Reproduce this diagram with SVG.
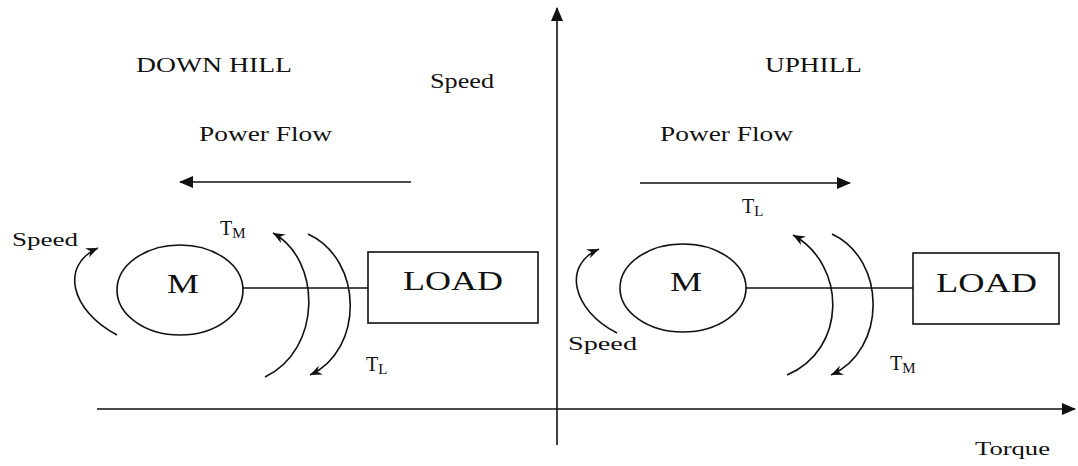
<svg xmlns="http://www.w3.org/2000/svg" width="1078" height="466" viewBox="0 0 1078 466">
<defs>
<style>
.t{font-family:"Liberation Serif","Times New Roman",serif;fill:#111;}
.ln{stroke:#111;stroke-width:1.6;fill:none;}
.arc{stroke:#111;stroke-width:1.6;fill:none;marker-end:url(#v);}
</style>
<marker id="tri" markerUnits="userSpaceOnUse" markerWidth="14" markerHeight="12" refX="13" refY="6" orient="auto"><path d="M0,0 L14,6 L0,12 Z" fill="#111"/></marker>
<marker id="v" markerUnits="userSpaceOnUse" markerWidth="14" markerHeight="12" refX="12" refY="6" orient="auto"><path d="M0,1 L12,6 L0,11 L4,6 Z" fill="#111"/></marker>
</defs>
<rect width="1078" height="466" fill="#fff"/>
<g id="connectors">
<line class="ln" x1="557" y1="445" x2="557" y2="8" marker-end="url(#tri)"/>
<line class="ln" x1="97" y1="409" x2="1075" y2="409" marker-end="url(#tri)"/>
<line class="ln" x1="411" y1="182" x2="180" y2="182" marker-end="url(#tri)"/>
<line class="ln" x1="640" y1="183" x2="850" y2="183" marker-end="url(#tri)"/>
<line class="ln" x1="243" y1="288" x2="368" y2="288"/>
<line class="ln" x1="746" y1="288" x2="913" y2="288"/>
<path class="arc" d="M117,335 C70,310 60,265 98,248"/>
<path class="arc" d="M265,377 C322,350 322,260 273,233"/>
<path class="arc" d="M308,234 C364,260 364,350 310,375"/>
<path class="arc" d="M617,333 C572,310 562,265 599,249"/>
<path class="arc" d="M787,375 C847,350 847,265 793,235"/>
<path class="arc" d="M832,234 C887,260 887,350 831,375"/>
</g>
<g id="labels">
<text class="t" x="136" y="72" font-size="21" textLength="156" lengthAdjust="spacingAndGlyphs">DOWN HILL</text>
<text class="t" x="430" y="88" font-size="20" textLength="64" lengthAdjust="spacingAndGlyphs">Speed</text>
<text class="t" x="199" y="141" font-size="21" textLength="133" lengthAdjust="spacingAndGlyphs">Power Flow</text>
<text class="t" x="765" y="72" font-size="21" textLength="97" lengthAdjust="spacingAndGlyphs">UPHILL</text>
<text class="t" x="660" y="141" font-size="21" textLength="133" lengthAdjust="spacingAndGlyphs">Power Flow</text>
<text class="t" x="742" y="213" font-size="20">T<tspan font-size="15" dy="3">L</tspan></text>
<text class="t" x="12" y="246" font-size="19" textLength="66" lengthAdjust="spacingAndGlyphs">Speed</text>
<text class="t" x="220" y="235" font-size="20">T<tspan font-size="15" dy="3">M</tspan></text>
<text class="t" x="366" y="371" font-size="20">T<tspan font-size="15" dy="3">L</tspan></text>
<text class="t" x="568" y="350" font-size="19" textLength="69" lengthAdjust="spacingAndGlyphs">Speed</text>
<text class="t" x="890" y="370" font-size="20">T<tspan font-size="15" dy="3">M</tspan></text>
<text class="t" x="975" y="455" font-size="19" textLength="75" lengthAdjust="spacingAndGlyphs">Torque</text>
</g>
<g id="motor-left">
<ellipse class="ln" cx="180" cy="290" rx="63" ry="45"/>
<text class="t" x="167" y="293" font-size="27" textLength="32" lengthAdjust="spacingAndGlyphs">M</text>
</g>
<g id="load-left">
<rect class="ln" x="368" y="252" width="170" height="71"/>
<text class="t" x="403" y="290" font-size="28" textLength="100" lengthAdjust="spacingAndGlyphs">LOAD</text>
</g>
<g id="motor-right">
<ellipse class="ln" cx="683" cy="288" rx="63" ry="44"/>
<text class="t" x="670" y="291" font-size="27" textLength="32" lengthAdjust="spacingAndGlyphs">M</text>
</g>
<g id="load-right">
<rect class="ln" x="913" y="253" width="146" height="71"/>
<text class="t" x="936" y="292" font-size="28" textLength="101" lengthAdjust="spacingAndGlyphs">LOAD</text>
</g>
</svg>
